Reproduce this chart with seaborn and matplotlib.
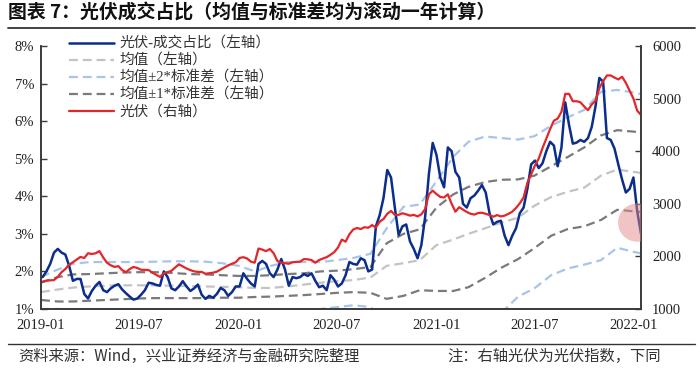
import numpy as np
import pandas as pd
import matplotlib
matplotlib.use("Agg")
import matplotlib.pyplot as plt
import matplotlib.dates as mdates
from matplotlib.lines import Line2D
from matplotlib.ticker import PercentFormatter, MultipleLocator
import seaborn as sns

# ── Data ────────────────────────────────────────────────────────────────────
WEEK_START = "2019-01-04"

# 光伏成交占比, %, weekly (left axis)
share_pct = [
    1.85, 2.00, 2.20, 2.50, 2.60, 2.50, 2.45, 2.15, 1.75, 1.80,
    1.80, 1.40, 1.28, 1.48, 1.62, 1.72, 1.50, 1.45, 1.55, 1.62,
    1.66, 1.52, 1.42, 1.33, 1.25, 1.28, 1.38, 1.50, 1.70, 1.68,
    1.64, 1.62, 2.00, 1.85, 1.55, 1.50, 1.60, 1.74, 1.60, 1.48,
    1.55, 1.65, 1.38, 1.27, 1.35, 1.30, 1.40, 1.56, 1.50, 1.35,
    1.45, 1.60, 1.60, 1.95, 1.80, 1.68, 1.60, 2.20, 2.28, 2.20,
    1.95, 1.85, 2.05, 2.33, 2.05, 1.62, 1.85, 1.82, 1.85, 1.93,
    1.88, 1.95, 1.75, 1.58, 1.62, 1.50, 1.90, 1.78, 1.60, 1.68,
    1.90, 2.25, 2.20, 2.18, 2.35, 2.30, 2.00, 2.05, 3.20, 3.50,
    3.95, 4.70, 4.50, 3.70, 2.97, 3.20, 3.25, 2.80, 2.60, 2.35,
    2.70, 3.45, 4.60, 5.42, 5.10, 4.50, 4.24, 5.30, 5.20, 4.65,
    4.50, 3.80, 3.70, 3.95, 4.02, 4.15, 4.30, 4.10, 3.55, 3.25,
    3.32, 3.35, 2.95, 2.70, 2.95, 3.15, 3.55, 3.70, 4.20, 4.85,
    4.95, 4.75, 4.88, 5.20, 5.45, 5.35, 4.80, 5.30, 6.50, 5.90,
    5.40, 5.43, 5.50, 5.45, 5.55, 5.85, 6.40, 7.15, 7.05, 5.55,
    5.50, 5.27, 4.85, 4.45, 4.10, 4.20, 4.50, 3.60, 3.00,
]

# 光伏指数, weekly (right axis)
pv_index = [
    1520, 1540, 1545, 1550, 1610, 1700, 1760, 1840, 1890, 1940,
    1990, 1970, 2060, 2045, 2060, 2100, 1980, 1880, 1830, 1800,
    1815, 1740, 1700, 1760, 1800, 1780, 1745, 1745, 1740, 1690,
    1650, 1610, 1680, 1700, 1725, 1790, 1850, 1810, 1770, 1740,
    1715, 1705, 1705, 1670, 1680, 1690, 1710, 1750, 1790, 1830,
    1860, 1890, 1970, 1985, 1960, 1900, 1880, 2150, 2130, 2100,
    2140, 2060, 1910, 1880, 1870, 1860, 1890, 1895, 1900, 1950,
    1945, 1930, 1880, 1930, 1960, 1985, 2030, 2080, 2170, 2320,
    2280, 2420, 2510, 2540, 2520, 2555, 2545, 2595, 2550, 2660,
    2710, 2810, 2865, 2790, 2790, 2820, 2800, 2775, 2790, 2760,
    2800, 2900, 3180, 3250, 3185, 3130, 3120, 3180, 3000, 2850,
    2935, 2890, 2845, 2810, 2795, 2825, 2830, 2810, 2785, 2755,
    2785, 2760, 2775, 2810, 2850, 2920, 3010, 3120, 3400, 3560,
    3730, 3860, 4060, 4240, 4420, 4580, 4620, 4750, 5090, 5090,
    4950, 4950, 4930, 4850, 4780, 4890, 4960, 5200, 5330, 5440,
    5440, 5400, 5365, 5415, 5300, 5150, 5000, 4770, 4690,
]

# rolling one-year mean / std bands, %, month starts + last week
band_dates = list(pd.date_range("2019-01-01", "2022-01-01", freq="MS")) + [pd.Timestamp("2022-01-14")]
mean_pct = [
    1.45, 1.52, 1.57, 1.60, 1.62, 1.63, 1.63, 1.63, 1.62, 1.61,
    1.60, 1.59, 1.58, 1.56, 1.56, 1.60, 1.65, 1.70, 1.74, 1.77,
    1.84, 2.15, 2.22, 2.30, 2.70, 2.85, 3.00, 3.15, 3.30, 3.43,
    3.75, 3.98, 4.12, 4.23, 4.55, 4.71, 4.65, 4.62,
]
plus1_pct = [
    1.70, 1.85, 1.92, 1.93, 1.95, 1.97, 1.98, 1.98, 1.96, 1.93,
    1.92, 1.90, 1.88, 1.88, 1.90, 1.93, 1.95, 2.00, 2.02, 2.06,
    2.12, 2.75, 3.00, 3.12, 3.70, 4.05, 4.25, 4.38, 4.44, 4.45,
    4.55, 4.80, 5.05, 5.30, 5.62, 5.76, 5.72, 5.70,
]
minus1_pct = [
    1.24, 1.20, 1.20, 1.22, 1.24, 1.26, 1.28, 1.29, 1.29, 1.29,
    1.29, 1.30, 1.30, 1.32, 1.33, 1.35, 1.37, 1.40, 1.43, 1.45,
    1.43, 1.27, 1.35, 1.50, 1.48, 1.48, 1.58, 1.83, 2.10, 2.33,
    2.62, 2.95, 3.13, 3.20, 3.37, 3.64, 3.60, 3.58,
]
plus2_pct = [
    1.85, 2.05, 2.20, 2.25, 2.25, 2.25, 2.25, 2.26, 2.27, 2.27,
    2.26, 2.22, 2.15, 2.00, 2.15, 2.25, 2.25, 2.25, 2.30, 2.36,
    2.47, 3.15, 3.72, 3.78, 4.40, 5.05, 5.45, 5.59, 5.55, 5.51,
    5.60, 5.88, 6.10, 6.30, 6.78, 6.83, 6.76, 6.72,
]
minus2_pct = [
    1.00, 1.00, 0.98, 0.97, 0.96, 0.95, 0.95, 0.95, 0.96, 0.98,
    0.98, 0.97, 0.95, 0.95, 0.95, 0.96, 0.98, 1.00, 1.05, 1.10,
    1.05, 0.60, 0.55, 0.50, 0.50, 0.30, 0.20, 0.30, 0.90, 1.33,
    1.55, 1.90, 2.08, 2.18, 2.30, 2.63, 2.52, 2.48,
]

# highlighted point (pink circle)
HIGHLIGHT_DATE = pd.Timestamp("2022-01-07")
HIGHLIGHT_PCT = 3.3

weekly_dates = pd.date_range(WEEK_START, periods=len(share_pct), freq="7D")
weekly = pd.DataFrame({"date": weekly_dates, "share": share_pct, "pv": pv_index})
bands = pd.DataFrame({"date": band_dates, "mean": mean_pct, "p1": plus1_pct,
                      "m1": minus1_pct, "p2": plus2_pct, "m2": minus2_pct})

# ── Style ────────────────────────────────────────────────────────────────────
BLUE = "#0B2D8C"
RED = "#E3262A"
MEAN_GREY = "#C3C3C3"
SD1_GREY = "#7A7A7A"
SD2_BLUE = "#A9C4EA"
SPINE = "#3A3A3A"
DASH = (0, (4, 2.2))

sns.set_style("white")
plt.rcParams["font.family"] = ["Liberation Serif", "Noto Sans CJK SC", "DejaVu Sans"]
CJK = ["Noto Sans CJK SC", "DejaVu Sans"]

fig = plt.figure(figsize=(7, 3.74), dpi=100)
ax = fig.add_axes([41 / 700, 65 / 374, 600 / 700, 263 / 374])
ax2 = ax.twinx()

sns.lineplot(data=bands, x="date", y="m2", ax=ax, color=SD2_BLUE, lw=1.6, linestyle=DASH, legend=False)
sns.lineplot(data=bands, x="date", y="p2", ax=ax, color=SD2_BLUE, lw=1.6, linestyle=DASH,
             legend=False, label="均值±2*标准差（左轴）")
sns.lineplot(data=bands, x="date", y="m1", ax=ax, color=SD1_GREY, lw=1.6, linestyle=DASH, legend=False)
sns.lineplot(data=bands, x="date", y="p1", ax=ax, color=SD1_GREY, lw=1.6, linestyle=DASH,
             legend=False, label="均值±1*标准差（左轴）")
sns.lineplot(data=bands, x="date", y="mean", ax=ax, color=MEAN_GREY, lw=1.6, linestyle=DASH,
             legend=False, label="均值（左轴）")
sns.lineplot(data=weekly, x="date", y="share", ax=ax, color=BLUE, lw=1.8,
             legend=False, label="光伏-成交占比（左轴）")
sns.lineplot(data=weekly, x="date", y="pv", ax=ax2, color=RED, lw=1.6,
             legend=False, label="光伏（右轴）")

ax2.scatter([HIGHLIGHT_DATE], [1000 + (HIGHLIGHT_PCT - 1) / 7 * 5000], s=760,
            color="#E28A8A", alpha=0.5, edgecolor="none", zorder=10)

# axes ranges and ticks
ax.set_xlim(pd.Timestamp("2019-01-01"), weekly_dates[-1])
ax.set_ylim(1, 8)
ax2.set_ylim(1000, 6000)
ax.yaxis.set_major_locator(MultipleLocator(1))
ax.yaxis.set_major_formatter(PercentFormatter(xmax=100, decimals=0))
ax2.yaxis.set_major_locator(MultipleLocator(1000))
ax.xaxis.set_major_locator(mdates.MonthLocator(bymonth=[1, 7]))
ax.xaxis.set_major_formatter(mdates.DateFormatter("%Y-%m"))

for a in (ax, ax2):
    a.set_xlabel("")
    a.set_ylabel("")
    a.spines["top"].set_visible(False)
    for s in ("left", "right", "bottom"):
        a.spines[s].set_color(SPINE)
        a.spines[s].set_linewidth(1.2)
    a.tick_params(direction="in", length=4, width=1, colors=SPINE, labelsize=10.5,
                  labelcolor="#222222")
    a.grid(False)
ax.tick_params(axis="x", pad=7)
ax.tick_params(axis="y", pad=5)
ax2.tick_params(axis="y", pad=8)

# legend
h1, l1 = ax.get_legend_handles_labels()
h2, l2 = ax2.get_legend_handles_labels()
lookup = dict(zip(l1 + l2, h1 + h2))
order = ["光伏-成交占比（左轴）", "均值（左轴）", "均值±2*标准差（左轴）",
         "均值±1*标准差（左轴）", "光伏（右轴）"]
leg = ax2.legend([lookup[k] for k in order], order, loc="upper left",
                 bbox_to_anchor=(69 / 700, 1 - 37 / 374), bbox_transform=fig.transFigure,
                 frameon=False, fontsize=10.5, handlelength=3.1, handletextpad=0.35,
                 labelspacing=0.2, borderaxespad=0, borderpad=0)
for t in leg.get_texts():
    t.set_color("#333333")

# title, rules and footnotes
fig.text(8 / 700, 1 - 13 / 374, "图表 7：光伏成交占比（均值与标准差均为滚动一年计算）",
         fontsize=13.6, fontweight="bold", family=CJK, va="center", ha="left", color="#111111")
fig.add_artist(Line2D([8 / 700, 695 / 700], [1 - 28 / 374] * 2, transform=fig.transFigure,
                      color="#333333", lw=1.3))
fig.add_artist(Line2D([8 / 700, 695 / 700], [1 - 344 / 374] * 2, transform=fig.transFigure,
                      color="#333333", lw=1.0))
fig.text(18 / 700, 1 - 356 / 374, "资料来源：Wind，兴业证券经济与金融研究院整理",
         fontsize=11, family=CJK, va="center", ha="left", color="#333333")
fig.text(447 / 700, 1 - 356 / 374, "注：右轴光伏为光伏指数，下同",
         fontsize=11, family=CJK, va="center", ha="left", color="#333333")

fig.savefig("out.png", dpi=100)
